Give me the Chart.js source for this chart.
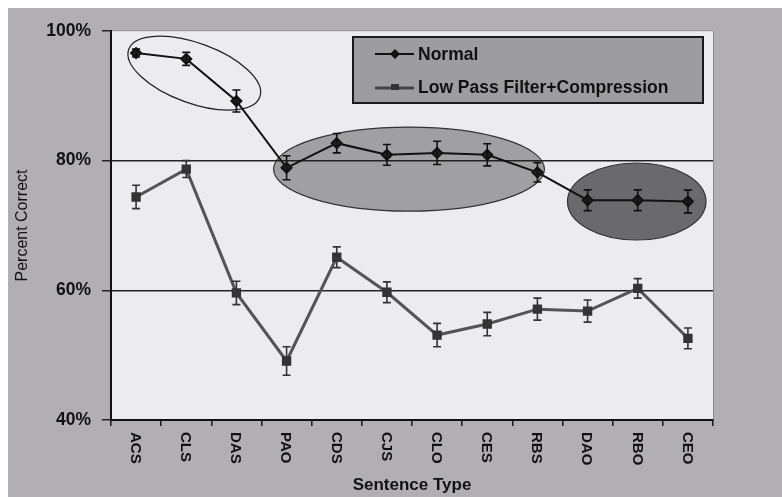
<!DOCTYPE html>
<html><head><meta charset="utf-8">
<script src="https://cdn.jsdelivr.net/npm/chart.js@4"></script>
<style>html,body{margin:0;padding:0;background:#fff}#wrap{width:782px;height:497px}</style>
</head><body><div id="wrap"><canvas id="c" width="782" height="497"></canvas></div>
<script>
const categories = ['ACS','CLS','DAS','PAO','CDS','CJS','CLO','CES','RBS','DAO','RBO','CEO'];
const normalValues = [96.6, 95.7, 89.2, 78.9, 82.7, 80.9, 81.2, 80.9, 78.2, 73.9, 73.9, 73.7];
const normalErrors = [0.6, 1.0, 1.7, 1.85, 1.5, 1.6, 1.8, 1.7, 1.5, 1.6, 1.6, 1.75];
const lowPassValues = [74.4, 78.7, 59.6, 49.1, 65.1, 59.7, 53.1, 54.8, 57.1, 56.8, 60.3, 52.6];
const lowPassErrors = [1.8, 1.3, 1.8, 2.2, 1.6, 1.6, 1.8, 1.8, 1.7, 1.7, 1.5, 1.6];
const yTickValues = [40, 60, 80, 100];
const seriesLabels = ['Normal', 'Low Pass Filter+Compression'];
// ellipse annotations in data units (category index, percent)
const ellipseCenters = [[1.16, 93.5], [5.44, 78.7], [9.98, 73.7]];
const ellipseRadii = [[1.39, 4.63], [2.70, 6.48], [1.38, 5.94]];

const FONT = "'Liberation Sans', Arial, sans-serif";
const ellipseStyles = [
  {angle: 20, fill: null, stroke: '#222'},
  {angle: 0, fill: '#a0a0a2', stroke: '#333'},
  {angle: 0, fill: '#6a6a6c', stroke: '#333'}
];

const decor = {
  id: 'decor',
  beforeDraw(chart) {
    const ctx = chart.ctx, a = chart.chartArea;
    const xs = chart.scales.x, ys = chart.scales.y;
    ctx.save();
    ctx.fillStyle = '#ffffff';
    ctx.fillRect(0, 0, chart.width, chart.height);
    ctx.fillStyle = '#b1afb4';
    ctx.fillRect(8, 8, chart.width - 8, chart.height - 8);
    ctx.fillStyle = '#ececf0';
    ctx.fillRect(a.left, a.top, a.right - a.left, a.bottom - a.top);
    ctx.strokeStyle = '#8a8a8e';
    ctx.lineWidth = 1;
    ctx.beginPath();
    ctx.moveTo(a.right + 0.5, a.top);
    ctx.lineTo(a.right + 0.5, a.bottom);
    ctx.stroke();
    ellipseCenters.forEach((c, i) => {
      const cx = xs.getPixelForValue(c[0]);
      const cy = ys.getPixelForValue(c[1]);
      const rx = Math.abs(xs.getPixelForValue(c[0] + ellipseRadii[i][0]) - cx);
      const ry = Math.abs(ys.getPixelForValue(c[1] + ellipseRadii[i][1]) - cy);
      const st = ellipseStyles[i];
      ctx.beginPath();
      ctx.ellipse(cx, cy, rx, ry, st.angle * Math.PI / 180, 0, Math.PI * 2);
      if (st.fill) { ctx.fillStyle = st.fill; ctx.fill(); }
      ctx.strokeStyle = st.stroke;
      ctx.lineWidth = 1.2;
      ctx.stroke();
    });
    ctx.restore();
  },
  afterDatasetsDraw(chart) {
    const ctx = chart.ctx, ys = chart.scales.y;
    const errs = [normalErrors, lowPassErrors];
    const cols = ['#111', '#333'];
    ctx.save();
    chart.data.datasets.forEach((ds, di) => {
      const meta = chart.getDatasetMeta(di);
      ctx.strokeStyle = cols[di];
      ctx.lineWidth = 1.6;
      meta.data.forEach((pt, i) => {
        const v = ds.data[i], e = errs[di][i];
        const y1 = ys.getPixelForValue(v + e), y2 = ys.getPixelForValue(v - e);
        const x = pt.x;
        ctx.beginPath();
        ctx.moveTo(x, y1); ctx.lineTo(x, y2);
        ctx.moveTo(x - 4, y1); ctx.lineTo(x + 4, y1);
        ctx.moveTo(x - 4, y2); ctx.lineTo(x + 4, y2);
        ctx.stroke();
      });
    });
    ctx.restore();
  },
  afterDraw(chart) {
    const ctx = chart.ctx, xs = chart.scales.x;
    ctx.save();
    // rotated category labels (reading top to bottom)
    ctx.fillStyle = '#111';
    ctx.font = 'bold 15px ' + FONT;
    ctx.textAlign = 'left';
    ctx.textBaseline = 'middle';
    categories.forEach((lab, i) => {
      const x = xs.getPixelForTick(i);
      ctx.save();
      ctx.translate(x - 1, 432);
      ctx.rotate(Math.PI / 2);
      ctx.fillText(lab, 0, 0);
      ctx.restore();
    });
    // legend box
    ctx.fillStyle = '#9d9d9f';
    ctx.fillRect(353, 37, 350, 66);
    ctx.strokeStyle = '#1a1a1a';
    ctx.lineWidth = 2;
    ctx.strokeRect(353, 37, 350, 66);
    const ds = chart.data.datasets;
    // Normal sample
    ctx.strokeStyle = '#111'; ctx.lineWidth = 2;
    ctx.beginPath(); ctx.moveTo(375, 54); ctx.lineTo(414, 54); ctx.stroke();
    ctx.fillStyle = '#111';
    ctx.beginPath(); ctx.moveTo(395, 49); ctx.lineTo(400, 54); ctx.lineTo(395, 59); ctx.lineTo(390, 54); ctx.closePath(); ctx.fill();
    // Low pass sample
    ctx.strokeStyle = '#444'; ctx.lineWidth = 3;
    ctx.beginPath(); ctx.moveTo(375, 88); ctx.lineTo(414, 88); ctx.stroke();
    ctx.fillStyle = '#333';
    ctx.fillRect(391, 84, 8, 6);
    ctx.fillStyle = '#111';
    ctx.font = 'bold 17.5px ' + FONT;
    ctx.textAlign = 'left';
    ctx.textBaseline = 'middle';
    ctx.fillText(ds[0].label, 418, 55);
    ctx.fillText(ds[1].label, 418, 88);
    ctx.restore();
  }
};

new Chart(document.getElementById('c'), {
  type: 'line',
  data: {
    labels: categories,
    datasets: [
      {label: seriesLabels[0], data: normalValues, borderColor: '#111', borderWidth: 2,
       pointStyle: 'rectRot', pointRadius: 5, pointBackgroundColor: '#222', pointBorderColor: '#111', tension: 0},
      {label: seriesLabels[1], data: lowPassValues, borderColor: '#545456', borderWidth: 3,
       pointStyle: 'rect', pointRadius: 4.5, pointBackgroundColor: '#3a3a3c', pointBorderColor: '#333', tension: 0}
    ]
  },
  options: {
    responsive: false,
    devicePixelRatio: 1,
    animation: false,
    layout: {padding: {left: 0, top: 31, right: 69, bottom: 0}},
    plugins: {legend: {display: false}, tooltip: {enabled: false}},
    scales: {
      x: {
        type: 'category',
        offset: true,
        grid: {offset: true, drawOnChartArea: false, drawTicks: true, tickLength: 6, tickColor: '#222', lineWidth: 1.6},
        ticks: {display: false},
        border: {display: true, color: '#111', width: 2},
        title: {display: true, text: 'Sentence Type', color: '#111', font: {family: FONT, size: 17, weight: 'bold'}, padding: {top: 0, bottom: 1}},
        afterFit(s) { s.height = 77; }
      },
      y: {
        min: 40, max: 100,
        afterBuildTicks(s) { s.ticks = yTickValues.map(v => ({value: v})); },
        ticks: {color: '#111', font: {family: FONT, size: 17.5, weight: 'bold'}, padding: 11, callback: v => v + '%'},
        grid: {
          color: c => c.tick.value === 40 ? 'rgba(0,0,0,0)' : (c.tick.value === 100 ? 'rgba(0,0,0,0.15)' : '#222'),
          lineWidth: 1.5, tickColor: '#222', tickLength: 9, drawTicks: true
        },
        border: {display: true, color: '#111', width: 2},
        title: {display: true, text: 'Percent Correct', color: '#111', font: {family: FONT, size: 16}, padding: {top: 13, bottom: 0}},
        afterFit(s) { s.width = 111; }
      }
    }
  },
  plugins: [decor]
});
</script>
</body></html>
